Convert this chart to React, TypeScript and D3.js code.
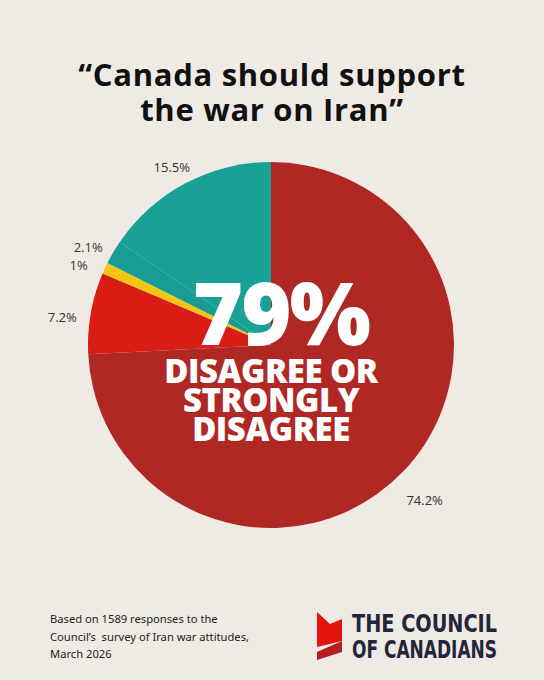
import React from 'react';
import * as d3 from 'd3';

// slices, clockwise from 12 o'clock
const categories = ["Strongly disagree / disagree", "Somewhat disagree", "Neutral", "Somewhat agree", "Agree / strongly agree"];
const values = [74.2, 7.2, 1, 2.1, 15.5];
const sliceLabels = ["74.2%", "7.2%", "1%", "2.1%", "15.5%"];
const colors = ["#b02823", "#d81c16", "#f2c516", "#179d93", "#19a198"];

const titleLines = ["\u201cCanada should support", "the war on Iran\u201d"];
const centerLines = ["DISAGREE OR", "STRONGLY", "DISAGREE"];
const footLines = ["Based on 1589 responses to the", "Council\u2019s\u00a0 survey of Iran war attitudes,", "March 2026"];

const W = 544;
const H = 680;

export default function App() {
    const cx = 271;
    const cy = 345;
    const r = 183;

    const pie = d3.pie<number>().sort(null).value(d => d);
    const arcs = pie(values);
    const arc = d3.arc<d3.PieArcDatum<number>>().innerRadius(0).outerRadius(r);
    const labelArc = d3.arc<d3.PieArcDatum<number>>().innerRadius(212).outerRadius(212);

    return (
        <svg width={W} height={H} style={{ position: "absolute", left: 0, top: 0, display: "block" }}>
            <rect width={W} height={H} fill="#efebe4" />

            <g fontFamily="'Open Sans', sans-serif" fontWeight={700} fontSize={31} letterSpacing={0.7} fill="#111" textAnchor="middle">
                {titleLines.map((t, i) => (
                    <text key={i} x={272} y={86 + i * 35}>{t}</text>
                ))}
            </g>

            <g transform={`translate(${cx},${cy})`}>
                {arcs.map((a, i) => (
                    <path key={categories[i]} d={arc(a)!} fill={colors[i]} />
                ))}
                {arcs.map((a, i) => {
                    const [lx, ly] = labelArc.centroid(a);
                    return (
                        <text key={"l" + i} x={lx} y={ly + 9} textAnchor="middle" dominantBaseline="central"
                            fontFamily="'Open Sans', sans-serif" fontSize={13} fill="#333">
                            {sliceLabels[i]}
                        </text>
                    );
                })}
            </g>

            <g fontFamily="'Open Sans', sans-serif" fontWeight={800} fill="#fff" textAnchor="middle">
                <text x={281} y={345} fontSize={86} letterSpacing={-2}>79%</text>
                {centerLines.map((t, i) => (
                    <text key={i} x={271} y={383 + i * 29} fontSize={33} letterSpacing={-0.5}>{t}</text>
                ))}
            </g>

            <g fontFamily="'Noto Sans', sans-serif" fontSize={11.2} fill="#222">
                {footLines.map((t, i) => (
                    <text key={i} x={50} y={623 + i * 17.5}>{t}</text>
                ))}
            </g>

            <g>
                <polygon points="317,612 330,624 342,619 342,641 317,647" fill="#e3140d" />
                <polygon points="317,652 342,641 342,652 317,660" fill="#b3201d" />
                <g fontFamily="'DejaVu Sans Condensed', 'Liberation Sans Narrow', sans-serif" fontWeight={700} fontSize={24} fill="#23253a">
                    <text x={352} y={632} textLength={145} lengthAdjust="spacingAndGlyphs">THE COUNCIL</text>
                    <text x={352} y={658} textLength={145} lengthAdjust="spacingAndGlyphs">OF CANADIANS</text>
                </g>
            </g>
        </svg>
    );
}
